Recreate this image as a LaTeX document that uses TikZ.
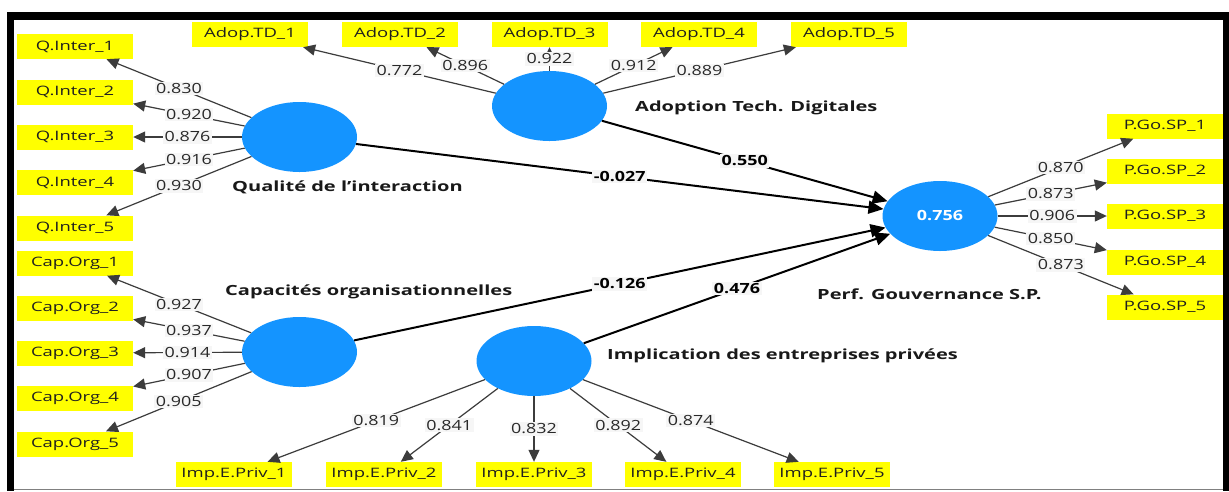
\documentclass[tikz,border=0pt]{standalone}
\usepackage{fontspec}
\setmainfont{Open Sans}
\usepackage{graphicx}
\usetikzlibrary{arrows.meta,shapes.geometric}
\definecolor{plsblue}{RGB}{20,148,255}
\definecolor{indyellow}{RGB}{255,255,0}
\definecolor{lblbg}{RGB}{246,246,246}
\definecolor{lbltext}{RGB}{40,40,40}
\definecolor{loadline}{RGB}{60,60,60}
\newcommand{\ix}[1]{\scalebox{1.42}[1]{#1}}
\newcommand{\lx}[1]{\scalebox{1.28}[1]{#1}}
\newcommand{\cx}[1]{\scalebox{1.43}[1]{#1}}
\newcommand{\px}[1]{\scalebox{1.28}[1]{#1}}
\begin{document}
\begin{tikzpicture}[x=1pt,y=-1pt,
 ind/.style={fill=indyellow, minimum width=116pt, minimum height=25pt, inner sep=0pt, text=black!88, font=\fontsize{13}{14}\selectfont},
 lv/.style={ellipse, fill=plsblue, minimum width=115pt, minimum height=70pt, inner sep=0pt},
 lvlabel/.style={anchor=west, inner sep=0pt, text=black!90, font=\bfseries\fontsize{14}{16}\selectfont},
 load/.style={draw=loadline, line width=1.2pt, -{Triangle[length=12pt,width=11pt]}},
 lval/.style={fill=lblbg, text=lbltext, inner sep=1.5pt, font=\fontsize{14}{15}\selectfont},
 struct/.style={draw=black, line width=2pt, -{Triangle[length=15pt,width=13pt]}},
 pval/.style={fill=lblbg, text=black, inner sep=1.5pt, font=\bfseries\fontsize{14}{15}\selectfont}]
\useasboundingbox (0,0) rectangle (1229,491);
\fill[white] (0,0) rectangle (1229,491);
% frame
\fill[black] (7,12) rectangle (1229,19.5);
\fill[black] (7,12) rectangle (14,491);
\fill[black] (1223,12) rectangle (1229,491);
\draw[gray, line width=1pt] (14,489.5) -- (1223,489.5);

% latent variables
\node[lv] (Q) at (299.5,137) {};
\node[lv] (A) at (549.5,106) {};
\node[lv] (P) at (940,216) {\textcolor{white}{\bfseries\fontsize{14}{15}\selectfont\px{0.756}}};
\node[lv] (C) at (299.5,352) {};
\node[lv] (I) at (534,361) {};

\node[lvlabel] (Ql) at (232,187) {\cx{Qualité de l’interaction}};
\node[lvlabel] (Al) at (635,108) {\cx{Adoption Tech. Digitales}};
\node[lvlabel] (Pl) at (817,294) {\cx{Perf. Gouvernance S.P.}};
\node[lvlabel] (Cl) at (225,292) {\cx{Capacités organisationnelles}};
\node[lvlabel] (Il) at (607,356) {\cx{Implication des entreprises privées}};

% indicators
\node[ind] (q1) at (75,46.5) {\ix{Q.Inter\_1}};
\node[ind] (q2) at (75,92) {\ix{Q.Inter\_2}};
\node[ind] (q3) at (75,137) {\ix{Q.Inter\_3}};
\node[ind] (q4) at (75,182.5) {\ix{Q.Inter\_4}};
\node[ind] (q5) at (75,228) {\ix{Q.Inter\_5}};

\node[ind] (c1) at (75,263) {\ix{Cap.Org\_1}};
\node[ind] (c2) at (75,308) {\ix{Cap.Org\_2}};
\node[ind] (c3) at (75,353) {\ix{Cap.Org\_3}};
\node[ind] (c4) at (75,398.5) {\ix{Cap.Org\_4}};
\node[ind] (c5) at (75,444) {\ix{Cap.Org\_5}};

\node[ind] (a1) at (250,34.5) {\ix{Adop.TD\_1}};
\node[ind] (a2) at (400,34.5) {\ix{Adop.TD\_2}};
\node[ind] (a3) at (549.5,34.5) {\ix{Adop.TD\_3}};
\node[ind] (a4) at (699,34.5) {\ix{Adop.TD\_4}};
\node[ind] (a5) at (849,34.5) {\ix{Adop.TD\_5}};

\node[ind] (p1) at (1165,126) {\ix{P.Go.SP\_1}};
\node[ind] (p2) at (1165,171) {\ix{P.Go.SP\_2}};
\node[ind] (p3) at (1165,216) {\ix{P.Go.SP\_3}};
\node[ind] (p4) at (1165,262) {\ix{P.Go.SP\_4}};
\node[ind] (p5) at (1165,307) {\ix{P.Go.SP\_5}};

\node[ind] (i1) at (234,474.5) {\ix{Imp.E.Priv\_1}};
\node[ind] (i2) at (384,474.5) {\ix{Imp.E.Priv\_2}};
\node[ind] (i3) at (534,474.5) {\ix{Imp.E.Priv\_3}};
\node[ind] (i4) at (683,474.5) {\ix{Imp.E.Priv\_4}};
\node[ind] (i5) at (832,474.5) {\ix{Imp.E.Priv\_5}};

% loadings
\draw[load] (Q) -- node[lval]{\lx{0.830}} (q1);
\draw[load] (Q) -- node[lval]{\lx{0.920}} (q2);
\draw[load] (Q) -- node[lval]{\lx{0.876}} (q3);
\draw[load] (Q) -- node[lval]{\lx{0.916}} (q4);
\draw[load] (Q) -- node[lval]{\lx{0.930}} (q5);

\draw[load] (C) -- node[lval]{\lx{0.927}} (c1);
\draw[load] (C) -- node[lval]{\lx{0.937}} (c2);
\draw[load] (C) -- node[lval]{\lx{0.914}} (c3);
\draw[load] (C) -- node[lval]{\lx{0.907}} (c4);
\draw[load] (C) -- node[lval]{\lx{0.905}} (c5);

\draw[load] (A) -- node[lval]{\lx{0.772}} (a1);
\draw[load] (A) -- node[lval]{\lx{0.896}} (a2);
\draw[load] (A) -- node[lval]{\lx{0.922}} (a3);
\draw[load] (A) -- node[lval]{\lx{0.912}} (a4);
\draw[load] (A) -- node[lval]{\lx{0.889}} (a5);

\draw[load] (P) -- node[lval]{\lx{0.870}} (p1);
\draw[load] (P) -- node[lval]{\lx{0.873}} (p2);
\draw[load] (P) -- node[lval]{\lx{0.906}} (p3);
\draw[load] (P) -- node[lval]{\lx{0.850}} (p4);
\draw[load] (P) -- node[lval]{\lx{0.873}} (p5);

\draw[load] (I) -- node[lval]{\lx{0.819}} (i1);
\draw[load] (I) -- node[lval]{\lx{0.841}} (i2);
\draw[load] (I) -- node[lval]{\lx{0.832}} (i3);
\draw[load] (I) -- node[lval]{\lx{0.892}} (i4);
\draw[load] (I) -- node[lval]{\lx{0.874}} (i5);

% structural paths
\draw[struct] (Q) -- node[pval]{\px{-0.027}} (P);
\draw[struct] (A) -- node[pval]{\px{0.550}} (P);
\draw[struct] (C) -- node[pval]{\px{-0.126}} (P);
\draw[struct] (I) -- node[pval]{\px{0.476}} (P);
\end{tikzpicture}
\end{document}
